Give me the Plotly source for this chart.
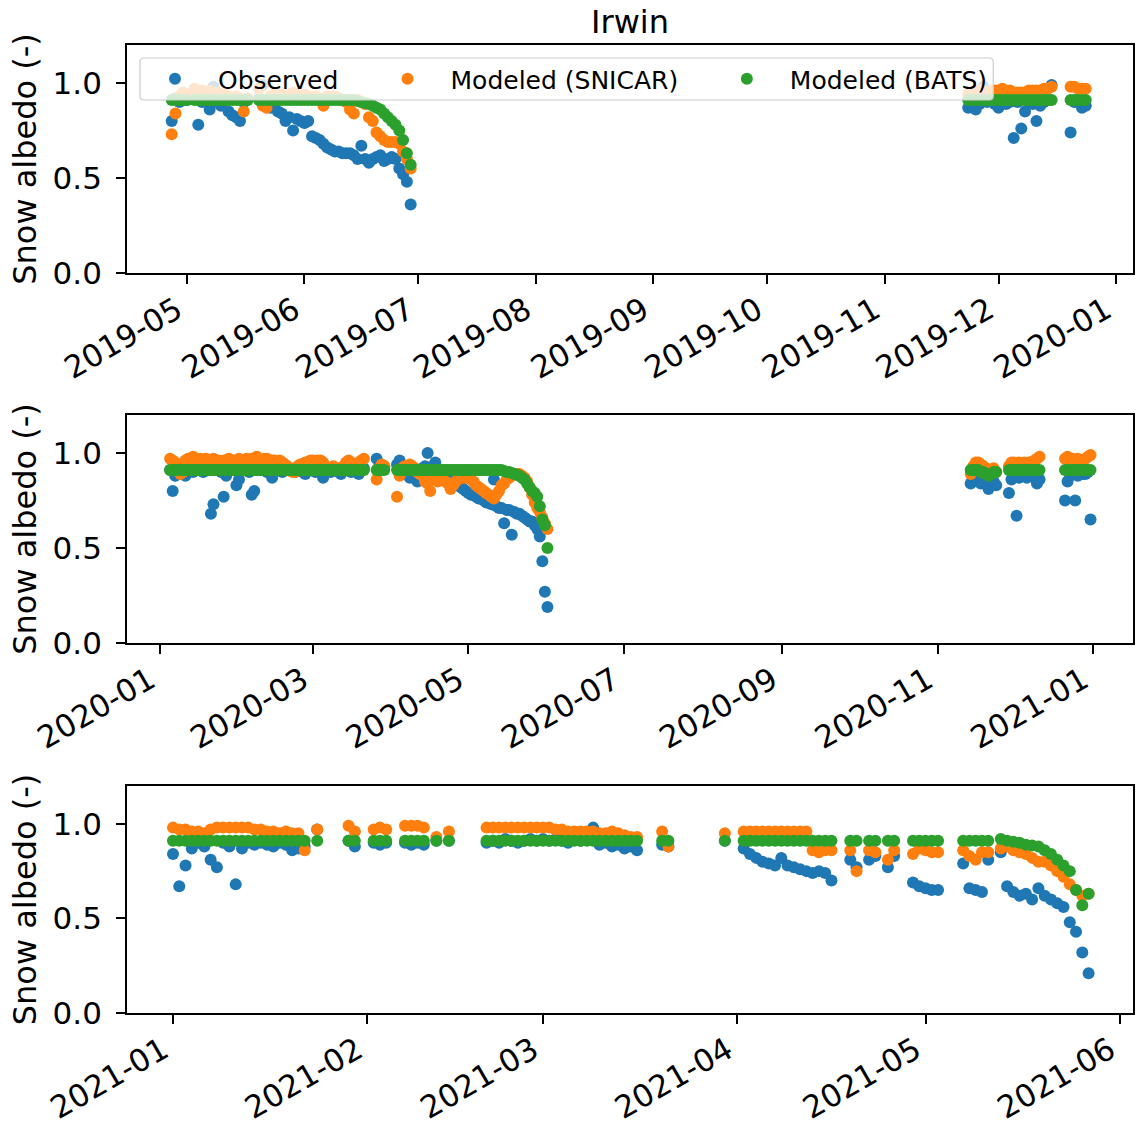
import pandas as pd
import plotly.graph_objects as go

N = None

# ---------------- Panel 1 (2019) ----------------
P1A_START = "2019-04-27"
OBS_1A = [0.80, 0.92, 0.90, 0.93, 0.91, N, 0.93, 0.78, 0.90, 0.91,
          0.86, 0.98, 0.90, 0.88, 0.91, 0.85, 0.83, 0.82, 0.80, 0.90,
          0.91, N, N, 0.92, 0.99, 0.90, 0.87, 0.88, 0.85, 0.84,
          0.80, 0.82, 0.75, 0.81, 0.80, 0.79, 0.80, 0.72, 0.71, 0.70,
          0.68, 0.66, 0.65, 0.64, 0.64, 0.63, 0.63, 0.63, 0.62, 0.60,
          0.67, 0.60, 0.58, 0.60, 0.61, 0.62, 0.59, 0.60, 0.61, 0.60,
          0.55, 0.52, 0.48, 0.36]
SNI_1A = [0.73, 0.84, 0.93, 0.95, 0.94, N, 0.97, 0.96, 0.96, 0.95,
          0.96, 0.94, 0.95, 0.93, 0.94, 0.93, 0.92, 0.93, 0.92, 0.85,
          0.92, N, N, 0.97, 0.88, 0.87, 0.93, 0.94, 0.93, 0.94,
          0.93, 0.94, 0.95, 0.94, 0.93, 0.94, 0.93, 0.92, 0.93, 0.92,
          0.88, 0.93, 0.92, 0.93, 0.92, 0.91, 0.90, 0.86, 0.84, 0.91,
          0.90, 0.89, 0.82, 0.80, 0.74, 0.72, 0.70, 0.69, 0.69, 0.69,
          0.68, 0.64, 0.60, 0.55]
BAT_1A = [0.91, 0.91, 0.91, 0.91, 0.91, N, 0.91, 0.91, 0.91, 0.91,
          0.91, 0.91, 0.91, 0.91, 0.91, 0.91, 0.91, 0.91, 0.91, 0.91,
          0.91, N, N, 0.91, 0.91, 0.91, 0.91, 0.91, 0.91, 0.91,
          0.91, 0.91, 0.91, 0.91, 0.91, 0.91, 0.91, 0.91, 0.91, 0.91,
          0.91, 0.91, 0.91, 0.91, 0.91, 0.91, 0.91, 0.91, 0.91, 0.905,
          0.90, 0.895, 0.89, 0.88, 0.87, 0.86, 0.84, 0.82, 0.80, 0.78,
          0.75, 0.70, 0.63, 0.57]

P1B_START = "2019-11-23"
OBS_1B = [0.87, 0.88, 0.86, 0.89, 0.98, 0.90, 0.91, 0.89, 0.87, 0.90,
          0.89, 0.90, 0.71, 0.90, 0.76, 0.85, 0.90, 0.89, 0.80, 0.88,
          0.90, 0.91, 0.99, N, N, N, N, 0.74, 0.90, 0.91,
          0.87, 0.88]
SNI_1B = [0.94, 0.95, 0.95, 0.96, 0.96, 0.95, 0.96, 0.96, 0.96, 0.97,
          0.96, 0.96, 0.95, 0.95, 0.95, 0.95, 0.96, 0.96, 0.96, 0.96,
          0.97, 0.97, 0.98, N, N, N, N, 0.98, 0.98, 0.97,
          0.97, 0.97]
BAT_1B = [0.91, 0.91, 0.91, 0.91, 0.91, 0.91, 0.91, 0.91, 0.91, 0.91,
          0.91, 0.91, 0.91, 0.91, 0.91, 0.91, 0.91, 0.91, 0.91, 0.91,
          0.91, 0.91, 0.91, N, N, N, N, 0.91, 0.91, 0.91,
          0.91, 0.91]

# ---------------- Panel 2 (2020) ----------------
P2A_START = "2020-01-05"
OBS_2A = [0.91, 0.80, 0.88, 0.91, 0.90, 0.92, 0.88, 0.91, 0.92, 0.90,
          0.91, 0.92, 0.91, 0.90, 0.92, 0.91, 0.68, 0.73, 0.91, 0.92,
          0.90, 0.77, 0.88, 0.91, 0.92, 0.91, 0.83, 0.86, 0.91, 0.92,
          0.91, 0.90, 0.78, 0.80, 0.91, 0.92, 0.91, 0.92, 0.90, 0.91,
          0.87, 0.91, 0.92, 0.91, 0.90, 0.92, 0.91, 0.92, 0.91, 0.90,
          0.92, 0.91, 0.90, 0.89, 0.91, 0.92, 0.91, 0.90, 0.91, 0.92,
          0.87, 0.91, 0.92, 0.90, 0.91, 0.92, 0.90, 0.89, 0.91, 0.92,
          0.91, 0.90, 0.91, 0.92, 0.89, 0.91, 0.92, N, N, N,
          N, 0.97, 0.93, 0.92, 0.93, N, N, N, N, 0.94,
          0.96, 0.93, 0.92, 0.91, 0.87, 0.90, 0.89, 0.85, 0.91, 0.92,
          0.93, 1.00, 0.92, 0.93, 0.95, 0.91, 0.90, 0.89, 0.88, 0.87,
          0.86, 0.85, 0.85, 0.83, 0.82, 0.81, 0.80, 0.79, 0.78, 0.78,
          0.77, 0.76, 0.76, 0.75, 0.74, 0.74, 0.73, 0.86, 0.72, 0.71,
          0.71, 0.63, 0.70, 0.70, 0.57, 0.69, 0.68, 0.68, 0.67, 0.66,
          0.65, 0.64, 0.64, 0.62, 0.60, 0.56, 0.43, 0.27, 0.19]
SNI_2A = [0.97, 0.96, 0.95, 0.93, 0.89, 0.90, 0.96, 0.97, 0.97, 0.98,
          0.97, 0.96, 0.97, 0.96, 0.97, 0.96, 0.96, 0.97, 0.96, 0.96,
          0.95, 0.96, 0.96, 0.97, 0.96, 0.96, 0.96, 0.97, 0.96, 0.96,
          0.97, 0.96, 0.97, 0.97, 0.98, 0.96, 0.96, 0.97, 0.97, 0.96,
          0.96, 0.96, 0.95, 0.96, 0.95, 0.94, 0.93, 0.92, 0.90, 0.90,
          0.93, 0.94, 0.94, 0.95, 0.95, 0.96, 0.96, 0.95, 0.96, 0.96,
          0.95, 0.93, 0.92, 0.91, 0.93, 0.92, 0.92, 0.91, 0.93, 0.95,
          0.96, 0.95, 0.94, 0.93, 0.95, 0.96, 0.97, N, N, N,
          N, 0.86, 0.92, 0.94, 0.93, N, N, N, N, 0.77,
          0.88, 0.92, 0.93, 0.93, 0.94, 0.93, 0.92, 0.90, 0.89, 0.88,
          0.85, 0.84, 0.80, 0.86, 0.88, 0.85, 0.87, 0.86, 0.85, 0.84,
          0.81, 0.83, 0.85, 0.86, 0.87, 0.87, 0.87, 0.87, 0.86, 0.85,
          0.83, 0.82, 0.81, 0.80, 0.79, 0.78, 0.77, 0.76, 0.78, 0.80,
          0.83, 0.84, 0.86, 0.87, 0.88, 0.89, 0.89, 0.89, 0.88, 0.87,
          0.85, 0.82, 0.78, 0.74, 0.71, 0.69, 0.66, 0.63, 0.60]
BAT_2A = [0.91, 0.91, 0.91, 0.91, 0.91, 0.91, 0.91, 0.91, 0.91, 0.91,
          0.91, 0.91, 0.91, 0.91, 0.91, 0.91, 0.91, 0.91, 0.91, 0.91,
          0.91, 0.91, 0.91, 0.91, 0.91, 0.91, 0.91, 0.91, 0.91, 0.91,
          0.91, 0.91, 0.91, 0.91, 0.91, 0.91, 0.91, 0.91, 0.91, 0.91,
          0.91, 0.91, 0.91, 0.91, 0.91, 0.91, 0.91, 0.91, 0.91, 0.91,
          0.91, 0.91, 0.91, 0.91, 0.91, 0.91, 0.91, 0.91, 0.91, 0.91,
          0.91, 0.91, 0.91, 0.91, 0.91, 0.91, 0.91, 0.91, 0.91, 0.91,
          0.91, 0.91, 0.91, 0.91, 0.91, 0.91, 0.91, N, N, N,
          N, 0.91, 0.91, 0.91, 0.91, N, N, N, N, 0.91,
          0.91, 0.91, 0.91, 0.91, 0.91, 0.91, 0.91, 0.91, 0.91, 0.91,
          0.91, 0.91, 0.91, 0.91, 0.91, 0.91, 0.91, 0.91, 0.91, 0.91,
          0.91, 0.91, 0.91, 0.91, 0.91, 0.91, 0.91, 0.91, 0.91, 0.91,
          0.91, 0.91, 0.91, 0.91, 0.91, 0.91, 0.91, 0.91, 0.91, 0.91,
          0.91, 0.905, 0.90, 0.90, 0.895, 0.89, 0.885, 0.88, 0.87, 0.86,
          0.84, 0.82, 0.80, 0.79, 0.77, 0.72, 0.65, 0.62, 0.50]

P2B_START = "2020-11-14"
OBS_2B = [0.84, 0.88, 0.86, 0.85, 0.84, 0.87, 0.88, 0.81, 0.86, 0.85,
          0.83, N, N, N, N, 0.79, 0.86, 0.88, 0.67, 0.87,
          0.89, 0.88, 0.87, 0.88, 0.89, 0.87, 0.84, 0.86, N, N,
          N, N, N, N, N, N, N, 0.75, 0.85, 0.88,
          0.89, 0.75, 0.88, 0.90, 0.89, 0.89, 0.90, 0.65]
SNI_2B = [0.89, 0.93, 0.95, 0.95, 0.94, 0.93, 0.92, 0.90, 0.91, 0.92,
          0.90, N, N, N, N, 0.93, 0.95, 0.95, 0.94, 0.95,
          0.94, 0.95, 0.94, 0.95, 0.95, 0.96, 0.97, 0.98, N, N,
          N, N, N, N, N, N, N, 0.97, 0.98, 0.97,
          0.97, 0.96, 0.97, 0.96, 0.96, 0.97, 0.98, 0.99]
BAT_2B = [0.91, 0.91, 0.91, 0.91, 0.90, 0.90, 0.89, 0.88, 0.89, 0.90,
          0.90, N, N, N, N, 0.91, 0.91, 0.91, 0.91, 0.91,
          0.91, 0.91, 0.91, 0.91, 0.91, 0.91, 0.91, 0.91, N, N,
          N, N, N, N, N, N, N, 0.91, 0.91, 0.91,
          0.91, 0.91, 0.91, 0.91, 0.91, 0.91, 0.91, 0.91]

# ---------------- Panel 3 (2021) ----------------
P3_START = "2021-01-01"
OBS_3 = [0.84, 0.67, 0.78, 0.87, 0.90, 0.88, 0.81, 0.77, 0.90, 0.88,
         0.68, 0.87, 0.90, 0.89, 0.90, 0.89, 0.88, 0.90, 0.89, 0.86,
         0.87, 0.88, N, 0.97, N, N, N, N, 0.91, 0.88,
         N, N, 0.90, 0.89, 0.90, N, N, 0.90, 0.89, 0.90,
         0.89, N, 0.91, N, 0.91, N, N, N, N, N,
         0.90, 0.91, 0.90, 0.92, 0.91, 0.90, 0.91, 0.92, 0.91, 0.92,
         0.91, 0.92, 0.91, 0.90, 0.92, 0.91, 0.93, 0.98, 0.89, 0.90,
         0.88, 0.89, 0.87, 0.88, 0.86, N, N, N, 0.89, 0.88,
         N, N, N, N, N, N, N, N, 0.91, N,
         N, 0.87, 0.84, 0.82, 0.80, 0.79, 0.78, 0.82, 0.78, 0.77,
         0.76, 0.75, 0.74, 0.75, 0.74, 0.70, N, N, 0.81, 0.77,
         N, 0.81, 0.83, N, 0.77, 0.83, N, N, 0.69, 0.67,
         0.66, 0.65, 0.65, N, N, N, 0.79, 0.66, 0.65, 0.64,
         0.81, N, 0.85, 0.67, 0.64, 0.62, 0.63, 0.60, 0.66, 0.62,
         0.60, 0.58, 0.56, 0.48, 0.43, 0.32, 0.21]
SNI_3 = [0.98, 0.97, 0.97, 0.96, 0.96, 0.95, 0.97, 0.98, 0.98, 0.98,
         0.98, 0.98, 0.98, 0.97, 0.97, 0.96, 0.96, 0.95, 0.96, 0.95,
         0.95, 0.86, N, 0.97, N, N, N, N, 0.99, 0.96,
         N, N, 0.97, 0.98, 0.97, N, N, 0.99, 0.99, 0.99,
         0.98, N, 0.93, N, 0.96, N, N, N, N, N,
         0.98, 0.98, 0.98, 0.98, 0.98, 0.98, 0.98, 0.98, 0.98, 0.98,
         0.98, 0.97, 0.97, 0.96, 0.96, 0.96, 0.96, 0.96, 0.95, 0.95,
         0.96, 0.95, 0.94, 0.93, 0.93, N, N, N, 0.96, 0.88,
         N, N, N, N, N, N, N, N, 0.95, N,
         N, 0.96, 0.96, 0.96, 0.96, 0.96, 0.96, 0.96, 0.96, 0.96,
         0.96, 0.96, 0.86, 0.85, 0.86, 0.86, N, N, 0.86, 0.75,
         N, 0.86, 0.85, N, 0.81, 0.86, N, N, 0.84, 0.87,
         0.86, 0.85, 0.85, N, N, N, 0.86, 0.83, 0.81, 0.85,
         0.85, N, 0.87, 0.88, 0.86, 0.85, 0.84, 0.82, 0.80, 0.80,
         0.78, 0.75, 0.72, 0.68, 0.65, 0.62, 0.63]
BAT_3 = [0.91, 0.91, 0.91, 0.91, 0.91, 0.91, 0.91, 0.91, 0.91, 0.91,
         0.91, 0.91, 0.91, 0.91, 0.91, 0.91, 0.91, 0.91, 0.91, 0.91,
         0.91, 0.91, N, 0.91, N, N, N, N, 0.91, 0.91,
         N, N, 0.91, 0.91, 0.91, N, N, 0.91, 0.91, 0.91,
         0.91, N, 0.91, N, 0.91, N, N, N, N, N,
         0.91, 0.91, 0.91, 0.91, 0.91, 0.91, 0.91, 0.91, 0.91, 0.91,
         0.91, 0.91, 0.91, 0.91, 0.91, 0.91, 0.91, 0.91, 0.91, 0.91,
         0.91, 0.91, 0.91, 0.91, 0.91, N, N, N, 0.91, 0.91,
         N, N, N, N, N, N, N, N, 0.91, N,
         N, 0.91, 0.91, 0.91, 0.91, 0.91, 0.91, 0.91, 0.91, 0.91,
         0.91, 0.91, 0.91, 0.91, 0.91, 0.91, N, N, 0.91, 0.91,
         N, 0.91, 0.91, N, 0.91, 0.91, N, N, 0.91, 0.91,
         0.91, 0.91, 0.91, N, N, N, 0.91, 0.91, 0.91, 0.91,
         0.91, N, 0.92, 0.91, 0.905, 0.90, 0.89, 0.885, 0.88, 0.86,
         0.84, 0.81, 0.78, 0.75, 0.65, 0.57, 0.63]

SERIES_NAMES = ["Observed", "Modeled (SNICAR)", "Modeled (BATS)"]
COLORS = ["#1f77b4", "#ff7f0e", "#2ca02c"]
Y_TICKS = [0.0, 0.5, 1.0]
TITLE = "Irwin"
Y_LABEL = "Snow albedo (-)"


def days(start, vals):
    return list(pd.date_range(start, periods=len(vals), freq="D"))


panels = [
    [(P1A_START, [OBS_1A, SNI_1A, BAT_1A]), (P1B_START, [OBS_1B, SNI_1B, BAT_1B])],
    [(P2A_START, [OBS_2A, SNI_2A, BAT_2A]), (P2B_START, [OBS_2B, SNI_2B, BAT_2B])],
    [(P3_START, [OBS_3, SNI_3, BAT_3])],
]

FONT = "DejaVu Sans"
fig = go.Figure()
legend_ids = ["legend", "legend2", "legend3"]
for p, segs in enumerate(panels):
    sfx = "" if p == 0 else str(p + 1)
    for s in range(3):
        xs, ys = [], []
        for start, series in segs:
            xs += days(start, series[s])
            ys += series[s]
        fig.add_trace(go.Scatter(
            x=xs, y=ys, mode="markers", name=SERIES_NAMES[s],
            marker=dict(color=COLORS[s], size=12, line=dict(width=0)),
            xaxis="x" + sfx, yaxis="y" + sfx,
            showlegend=(p == 0), legend=legend_ids[s],
        ))

W, H = 1138, 1135
ML, MR, MT, MB = 127, 3, 45, 122
PW, PH = W - ML - MR, H - MT - MB


def py(pix):
    return (H - MB - pix) / PH


def px(pix):
    return (pix - ML) / PW


panel_px = [(45, 273), (415, 643), (786, 1013)]
x_ranges = [["2019-04-15 05:00", "2020-01-05 11:00"],
            ["2019-12-19 02:00", "2021-01-16 16:00"],
            ["2020-12-24 16:00", "2021-06-03 02:00"]]
x_dticks = ["M1", "M2", "M1"]
x_tick0 = ["2019-05-01", "2020-01-01", "2021-01-01"]

axis_common = dict(showline=True, mirror=True, linecolor="black", linewidth=1.8,
                   ticks="outside", ticklen=9, tickwidth=1.8, tickcolor="black",
                   showgrid=False, zeroline=False,
                   tickfont=dict(family=FONT, size=31, color="black"))
layout = dict(
    width=W, height=H, margin=dict(l=ML, r=MR, t=MT, b=MB),
    paper_bgcolor="white", plot_bgcolor="white",
    font=dict(family=FONT, color="black"),
    title=dict(text=TITLE, x=0.5, xref="paper", xanchor="center",
               y=1 - 22 / H, yanchor="middle", font=dict(family=FONT, size=32, color="black")),
)
for p in range(3):
    sfx = "" if p == 0 else str(p + 1)
    top, bot = panel_px[p]
    layout["xaxis" + sfx] = dict(axis_common, type="date", range=x_ranges[p],
                                 dtick=x_dticks[p], tick0=x_tick0[p], tickformat="%Y-%m",
                                 tickangle=-30, ticklabelshift=-10, ticklabelstandoff=-4,
                                 anchor="y" + sfx, domain=[0, 1])
    layout["yaxis" + sfx] = dict(axis_common, range=[0, 1.2], tickvals=Y_TICKS,
                                 tickformat=".1f", anchor="x" + sfx, ticklabelstandoff=8,
                                 domain=[py(bot), py(top)],
                                 title=dict(text=Y_LABEL, standoff=6,
                                            font=dict(family=FONT, size=32, color="black")))

leg_marker_px = [175, 408, 748]
for i, lid in enumerate(legend_ids):
    layout[lid] = dict(x=px(leg_marker_px[i] - 43), xanchor="left", xref="paper",
                       y=py(79), yanchor="middle", yref="paper", itemwidth=76,
                       orientation="h", bgcolor="rgba(0,0,0,0)", borderwidth=0,
                       font=dict(family=FONT, size=25, color="black"))

# legend frame (rounded rectangle, drawn above the data)
x0, x1, y0, y1 = px(140), px(995), py(100), py(58)
rx, ry = 4 / PW, 4 / PH
path = (f"M {x0+rx},{y0} L {x1-rx},{y0} Q {x1},{y0} {x1},{y0+ry} "
        f"L {x1},{y1-ry} Q {x1},{y1} {x1-rx},{y1} L {x0+rx},{y1} "
        f"Q {x0},{y1} {x0},{y1-ry} L {x0},{y0+ry} Q {x0},{y0} {x0+rx},{y0} Z")
layout["shapes"] = [dict(type="path", xref="paper", yref="paper", path=path,
                         fillcolor="rgba(255,255,255,0.8)",
                         line=dict(color="#cccccc", width=1.2), layer="above")]

fig.update_layout(**layout)
fig.write_html("out.html", config={"displayModeBar": False})
